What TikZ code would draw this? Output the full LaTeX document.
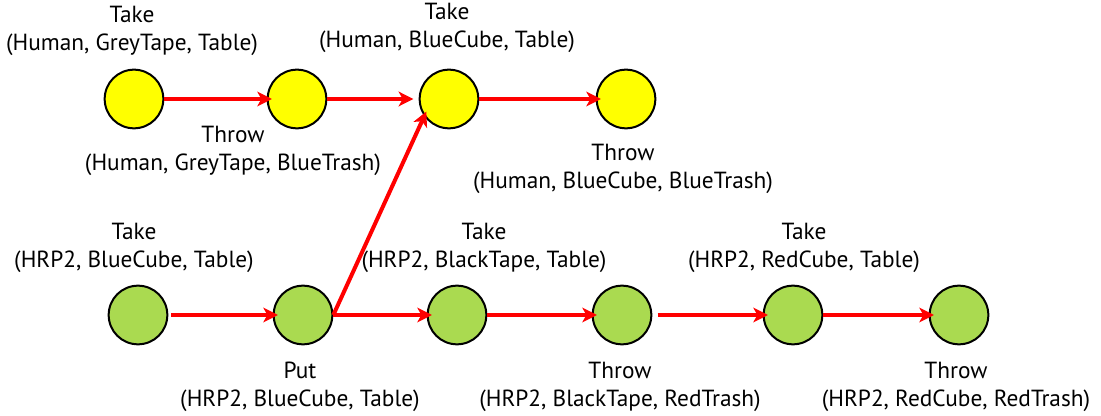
\documentclass[tikz,border=0pt]{standalone}
\usepackage{fontspec}
\setmainfont{PT Sans}
\usetikzlibrary{arrows.meta}

\definecolor{stateyellow}{RGB}{255,255,0}
\definecolor{stategreen}{RGB}{170,218,80}
\definecolor{planred}{RGB}{255,0,0}

\tikzset{
    human/.style={circle, draw=black, line width=1.5pt, fill=stateyellow, minimum size=44pt, inner sep=0pt},
    robot/.style={circle, draw=black, line width=1.5pt, fill=stategreen, minimum size=44pt, inner sep=0pt},
    act/.style={align=center, font=\fontsize{17.5}{21}\selectfont, inner sep=0pt},
    arr/.style={draw=planred, line width=3pt, -{Stealth[length=11pt,width=11pt,inset=3pt]}, shorten >=-4pt}
}

\begin{document}
\begin{tikzpicture}[x=0.75pt, y=-0.75pt]
    \useasboundingbox (0,0) rectangle (1101,416);

    % human plan
    \node[human] (y1) at (134,99) {};
    \node[human] (y2) at (297,99) {};
    \node[human] (y3) at (449,99) {};
    \node[human] (y4) at (626,99) {};

    % robot plan
    \node[robot] (g1) at (138,315) {};
    \node[robot] (g2) at (303,315) {};
    \node[robot] (g3) at (457,315) {};
    \node[robot] (g4) at (622,315) {};
    \node[robot] (g5) at (793,315) {};
    \node[robot] (g6) at (959,315) {};

    % actions
    \node[act] (t1) at (132,31) {Take\\(Human, GreyTape, Table)};
    \node[act] (t2) at (233,151) {Throw\\(Human, GreyTape, BlueTrash)};
    \node[act] (t3) at (447,28) {Take\\(Human, BlueCube, Table)};
    \node[act] (t4) at (623,169) {Throw\\(Human, BlueCube, BlueTrash)};
    \node[act] (t5) at (134,248) {Take\\(HRP2, BlueCube, Table)};
    \node[act] (t6) at (300,387) {Put\\(HRP2, BlueCube, Table)};
    \node[act] (t7) at (484,248) {Take\\(HRP2, BlackTape, Table)};
    \node[act] (t8) at (620,387) {Throw\\(HRP2, BlackTape, RedTrash)};
    \node[act] (t9) at (804,248) {Take\\(HRP2, RedCube, Table)};
    \node[act] (t10) at (956,387) {Throw\\(HRP2, RedCube, RedTrash)};

    % links
    \draw[arr] (y1) -- (y2);
    \draw[arr, shorten >=4pt] (y2) -- (y3);
    \draw[arr] (y3) -- (y4);
    \draw[arr, shorten <=2pt] (g1) -- (g2);
    \draw[arr] (g2.east) -- (y3.215);
    \draw[arr] (g2.east) -- (g3);
    \draw[arr] (g3) -- (g4);
    \draw[arr, shorten <=4pt] (g4) -- (g5);
    \draw[arr] (g5) -- (g6);
\end{tikzpicture}
\end{document}
